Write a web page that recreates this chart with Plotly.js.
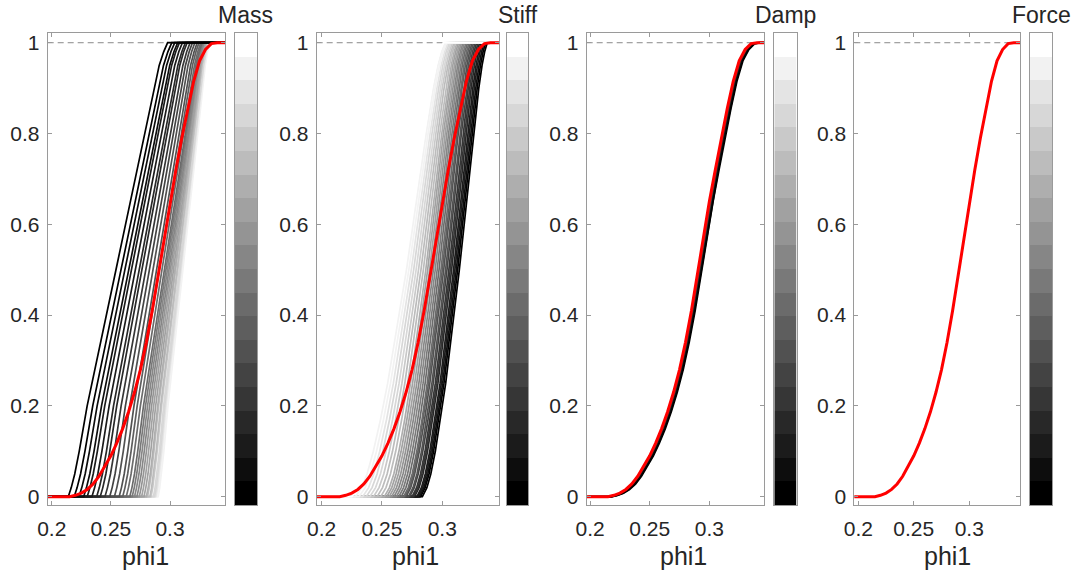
<!DOCTYPE html>
<html>
<head>
<meta charset="utf-8">
<script src="https://cdn.plot.ly/plotly-3.0.1.min.js"></script>
<style>html,body{margin:0;padding:0;background:#fff}#chart{width:1076px;height:574px}</style>
</head>
<body>
<div id="chart"></div>
<script>
// ---------------- data ----------------
const panelTitles = ['Mass', 'Stiff', 'Damp', 'Force'];
const xLabel = 'phi1';
const xTickVals = [0.2, 0.25, 0.3];
const xTickText = ['0.2', '0.25', '0.3'];
const yTickVals = [0, 0.2, 0.4, 0.6, 0.8, 1];
const colorLevels = [0,1,2,3,4,5,6,7,8,9,10,11,12,13,14,15,16,17,18,19];

// nominal (red) curve
const redX = [0.196, 0.205, 0.215, 0.22, 0.225, 0.23, 0.235, 0.24, 0.245, 0.25, 0.255, 0.26, 0.265, 0.27, 0.275, 0.28, 0.285, 0.29, 0.295, 0.30, 0.305, 0.31, 0.315, 0.32, 0.325, 0.33, 0.335, 0.34, 0.347];
const redY = [0, 0, 0, 0.003, 0.008, 0.016, 0.028, 0.045, 0.066, 0.09, 0.118, 0.15, 0.187, 0.23, 0.28, 0.34, 0.41, 0.49, 0.57, 0.65, 0.72, 0.79, 0.855, 0.915, 0.96, 0.985, 0.998, 1, 1];

// Mass: curve shape (fraction of rise width reached at each y), start / end x, colour level
const massProfileY = [0, 0.02, 0.05, 0.1, 0.2, 0.5, 0.8, 0.9, 0.95, 0.98, 1];
const massProfileF = [0, 0.03, 0.065, 0.11, 0.19, 0.48, 0.77, 0.86, 0.915, 0.96, 1];
const massStart = [0.214, 0.219, 0.223, 0.227, 0.230, 0.234, 0.238, 0.241, 0.245, 0.249, 0.253, 0.257, 0.260, 0.263, 0.266, 0.268, 0.270, 0.272, 0.274, 0.276, 0.278, 0.280, 0.281, 0.283, 0.284, 0.286, 0.287, 0.288, 0.289, 0.290];
const massEnd   = [0.298, 0.3015, 0.304, 0.3065, 0.308, 0.3105, 0.313, 0.3145, 0.317, 0.319, 0.321, 0.323, 0.3245, 0.326, 0.327, 0.3275, 0.328, 0.3285, 0.329, 0.3295, 0.330, 0.3305, 0.3305, 0.331, 0.331, 0.3315, 0.332, 0.3325, 0.333, 0.3335];
const massLevel = [0, 0, 1, 1, 2, 2, 3, 3, 4, 5, 6, 6, 7, 8, 8, 9, 10, 10, 11, 12, 12, 13, 14, 14, 15, 16, 16, 17, 18, 18];

// Stiff
const stiffProfileY = [0, 0.02, 0.05, 0.1, 0.17, 0.25, 0.5, 0.8, 0.9, 0.95, 0.98, 1];
const stiffProfileF = [0, 0.07, 0.13, 0.2, 0.28, 0.36, 0.57, 0.79, 0.87, 0.92, 0.96, 1];
const stiffStart = [0.225, 0.228, 0.231, 0.234, 0.237, 0.240, 0.243, 0.246, 0.249, 0.252, 0.254, 0.256, 0.258, 0.260, 0.262, 0.264, 0.266, 0.268, 0.269, 0.270, 0.272, 0.273, 0.275, 0.276, 0.277, 0.279, 0.280, 0.281, 0.282, 0.2835];
const stiffEnd   = [0.3010, 0.3023, 0.3035, 0.3048, 0.3060, 0.3073, 0.3085, 0.3098, 0.3110, 0.3123, 0.3135, 0.3148, 0.3160, 0.3173, 0.3185, 0.3198, 0.3210, 0.3223, 0.3235, 0.3248, 0.3260, 0.3273, 0.3285, 0.3298, 0.3310, 0.3323, 0.3335, 0.3348, 0.3360, 0.3373];
const stiffLevel = [19, 18, 18, 17, 16, 16, 15, 14, 14, 13, 12, 12, 11, 10, 10, 9, 8, 8, 7, 6, 6, 5, 4, 4, 3, 2, 2, 1, 0, 0];

// Damp: curves lie just to the right of the nominal curve (horizontal offset)
const dampShift = [0.001, 0.0018, 0.0024, 0.003];
const dampLevel = [6, 4, 2, 0];

// ---------------- layout geometry (pixels) ----------------
const W = 1076, H = 574;
const plotPx = [[47.7, 225], [316.7, 499.3], [586.7, 764], [854.3, 1020]];
const cbarPx = [[235, 257], [507, 528], [774.3, 796.7], [1030, 1052]];
const xRanges = [[0.1966, 0.3465], [0.1959, 0.3473], [0.1972, 0.3458], [0.1964, 0.3457]];
const topPx = 33, botPx = 505;
const yRange = [-0.0183, 1.0214];
const labelCenters = [145, 415, 683, 947];

const font = '"Liberation Sans", Arial, Helvetica, sans-serif';
const txt = '#262626';
const frame = '#9a9a9a';

function grayOf(level) {
  const g = Math.round(255 * level / 19);
  return 'rgb(' + g + ',' + g + ',' + g + ')';
}

const traces = [];
const layout = {
  width: W, height: H,
  margin: {l: 0, r: 0, t: 0, b: 0},
  paper_bgcolor: '#fff', plot_bgcolor: '#fff',
  showlegend: false,
  shapes: [], annotations: []
};
const yDom = [1 - botPx / H, 1 - topPx / H];

function axName(n) { return n === 1 ? '' : String(n); }

function rampCurve(start, end, pY, pF, xr) {
  const xs = [xr[0]], ys = [0];
  for (let k = 0; k < pY.length; k++) {
    xs.push(start + (end - start) * pF[k]);
    ys.push(pY[k]);
  }
  xs.push(xr[1]); ys.push(1);
  return {xs, ys};
}

for (let p = 0; p < 4; p++) {
  const n = p + 1, cn = p + 5;
  const xa = 'x' + axName(n), ya = 'y' + axName(n);
  const xc = 'x' + cn, yc = 'y' + cn;
  const xr = xRanges[p];

  layout['xaxis' + axName(n)] = {
    domain: [plotPx[p][0] / W, plotPx[p][1] / W], range: xr, anchor: ya,
    tickmode: 'array', tickvals: xTickVals, ticktext: xTickText,
    ticks: 'inside', ticklen: 4, tickcolor: frame, tickwidth: 1,
    showline: true, linecolor: frame, linewidth: 1, mirror: 'ticks',
    showgrid: false, zeroline: false, ticklabelstandoff: 5,
    tickfont: {family: font, size: 21, color: txt}
  };
  layout['yaxis' + axName(n)] = {
    domain: yDom, range: yRange, anchor: xa,
    tickmode: 'array', tickvals: yTickVals,
    ticks: 'inside', ticklen: 4, tickcolor: frame, tickwidth: 1,
    showline: true, linecolor: frame, linewidth: 1, mirror: 'ticks',
    showgrid: false, zeroline: false, ticklabelstandoff: 3,
    tickfont: {family: font, size: 21, color: txt}
  };
  layout['xaxis' + cn] = {
    domain: [cbarPx[p][0] / W, cbarPx[p][1] / W], range: [-0.5, 0.5], anchor: yc,
    showticklabels: false, ticks: '', showline: true, linecolor: frame, mirror: true,
    showgrid: false, zeroline: false
  };
  layout['yaxis' + cn] = {
    domain: yDom, range: [-0.5, 19.5], anchor: xc,
    showticklabels: false, ticks: '', showline: true, linecolor: frame, mirror: true,
    showgrid: false, zeroline: false
  };

  // colour bar
  traces.push({
    type: 'heatmap', x: [0], y: colorLevels, z: colorLevels.map(l => [l]),
    zmin: 0, zmax: 19, colorscale: [[0, '#000000'], [1, '#ffffff']],
    showscale: false, xaxis: xc, yaxis: yc, hoverinfo: 'skip'
  });

  // dashed reference line at 1
  layout.shapes.push({
    type: 'line', xref: xa + ' domain', yref: ya, x0: 0, x1: 1, y0: 1, y1: 1,
    layer: 'below', line: {color: '#8a8a8a', width: 1, dash: '6px,4px'}
  });

  // grey sample curves
  if (p === 0 || p === 1) {
    const S = p === 0 ? massStart : stiffStart;
    const E = p === 0 ? massEnd : stiffEnd;
    const L = p === 0 ? massLevel : stiffLevel;
    const PY = p === 0 ? massProfileY : stiffProfileY;
    const PF = p === 0 ? massProfileF : stiffProfileF;
    // leftmost curve drawn last (on top)
    const order = S.map((s, i) => i).sort((a, b) => S[b] - S[a]);
    for (const i of order) {
      const c = rampCurve(S[i], E[i], PY, PF, xr);
      traces.push({type: 'scatter', mode: 'lines', x: c.xs, y: c.ys, xaxis: xa, yaxis: ya,
        line: {color: grayOf(L[i]), width: 1.7}, hoverinfo: 'skip'});
    }
  } else if (p === 2) {
    for (let i = 0; i < dampShift.length; i++) {
      traces.push({type: 'scatter', mode: 'lines', x: redX.map(v => v + dampShift[i]), y: redY,
        xaxis: xa, yaxis: ya, line: {color: grayOf(dampLevel[i]), width: 2}, hoverinfo: 'skip'});
    }
  }

  // nominal curve
  traces.push({type: 'scatter', mode: 'lines', x: redX, y: redY, xaxis: xa, yaxis: ya,
    line: {color: '#ff0000', width: 3}, hoverinfo: 'skip'});

  // titles
  layout.annotations.push({
    text: panelTitles[p], xref: 'paper', yref: 'paper',
    x: (cbarPx[p][0] + cbarPx[p][1]) / 2 / W, y: 1 - 15 / H,
    xanchor: 'center', yanchor: 'middle', showarrow: false,
    font: {family: font, size: 23, color: txt}
  });
  layout.annotations.push({
    text: xLabel, xref: 'paper', yref: 'paper',
    x: labelCenters[p] / W, y: 1 - 556 / H,
    xanchor: 'center', yanchor: 'middle', showarrow: false,
    font: {family: font, size: 25, color: txt}
  });
}

Plotly.newPlot('chart', traces, layout, {staticPlot: true, displayModeBar: false});
</script>
</body>
</html>
